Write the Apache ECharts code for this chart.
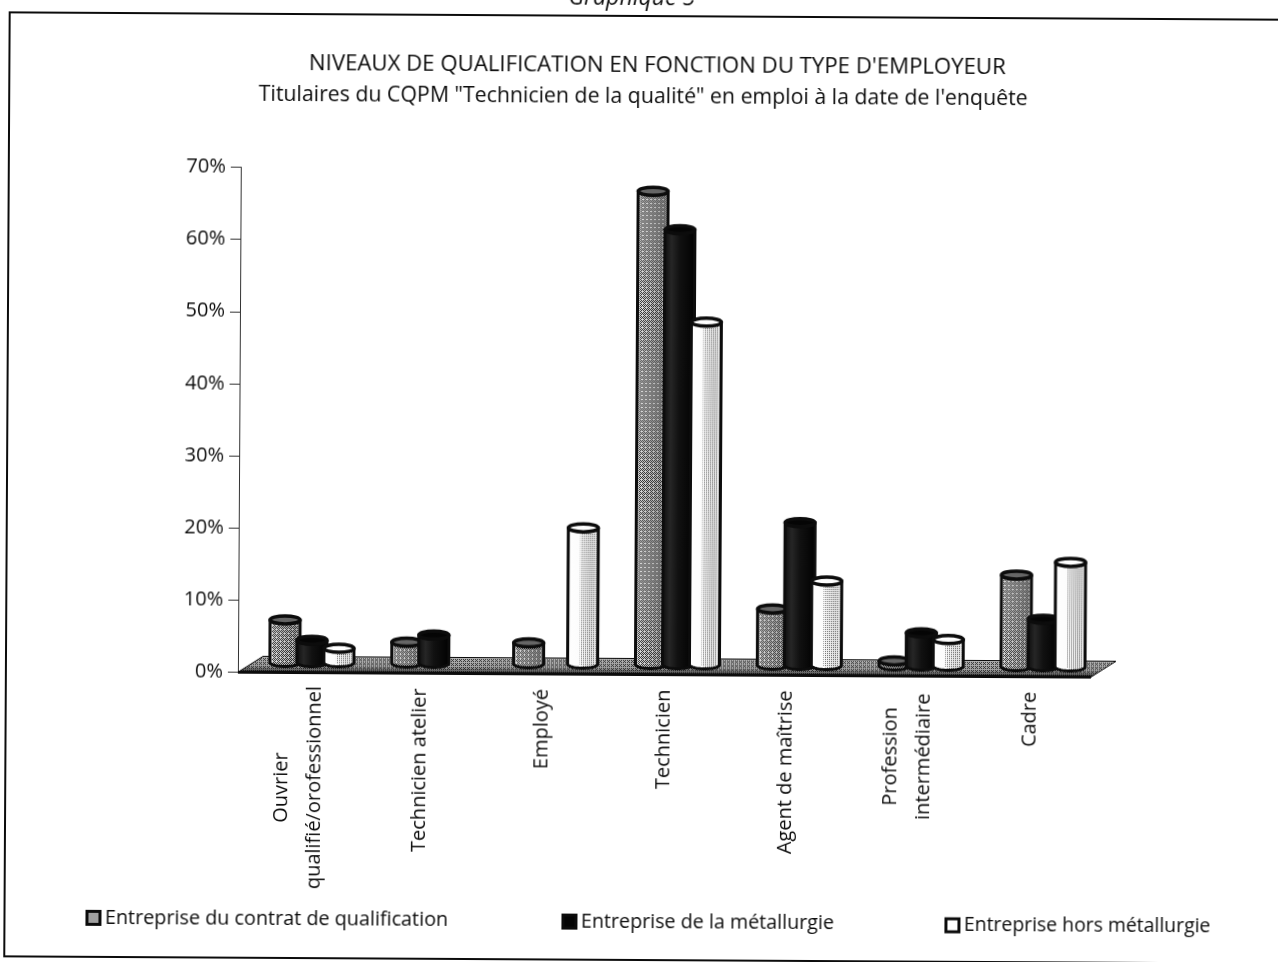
<!DOCTYPE html>
<html lang="fr">
<head>
<meta charset="utf-8">
<title>Niveaux de qualification</title>
<script src="https://cdn.jsdelivr.net/npm/echarts@6/dist/echarts.min.js"></script>
<style>
html,body{margin:0;padding:0;background:#fff;overflow:hidden}
#chart{width:1278px;height:962px;transform:rotate(0.33deg);transform-origin:639px 481px}
</style>
</head>
<body>
<div id="chart"></div>
<script>
// Qualification levels by employer type (percent of job holders)
const categories = [
  'Ouvrier\nqualifié/orofessionnel',
  'Technicien atelier',
  'Employé',
  'Technicien',
  'Agent de maîtrise',
  'Profession\nintermédiaire',
  'Cadre'
];
const contratQualification = [5.9, 2.9, 2.9, 65.6, 7.8, 0.7, 12.7];
const metallurgie = [3.1, 3.9, null, 60.3, 19.8, 4.6, 6.6];
const horsMetallurgie = [2.0, null, 18.9, 47.5, 11.7, 3.7, 14.5];
const yTicks = [0, 10, 20, 30, 40, 50, 60, 70];

const FONT = '"Open Sans", "Noto Sans", sans-serif';
const INK = '#0c0c0c';

// Ordered dither tile: the printed grey tone, darker as level rises (0-16)
const BAYER = [
  [0, 8, 2, 10],
  [12, 4, 14, 6],
  [3, 11, 1, 9],
  [15, 7, 13, 5]
];
function screen(level, alpha) {
  const c = document.createElement('canvas');
  c.width = c.height = 4;
  const g = c.getContext('2d');
  g.fillStyle = 'rgba(0,0,0,' + alpha + ')';
  BAYER.forEach((row, y) => row.forEach((t, x) => {
    if (t < level) g.fillRect(x, y, 1, 1);
  }));
  return { image: c, repeat: 'repeat' };
}

const hGrad = (stops) => ({
  type: 'linear', x: 0, y: 0, x2: 1, y2: 0,
  colorStops: stops.map(([offset, color]) => ({ offset, color }))
});
const vGrad = (stops) => ({
  type: 'linear', x: 0, y: 0, x2: 0, y2: 1,
  colorStops: stops.map(([offset, color]) => ({ offset, color }))
});

// Cylinder outline: flat top edge and rounded lower edge
function bodyPoints(cx, top, base, rx, ry) {
  const pts = [[cx - rx, top], [cx + rx, top]];
  for (let i = 0; i <= 24; i++) {
    const a = Math.PI * i / 24;
    pts.push([cx + rx * Math.cos(a), base + ry * Math.sin(a)]);
  }
  return pts;
}

const LOOKS = [
  {
    fill: hGrad([[0, '#e0e0e0'], [0.5, '#c4c4c4'], [1, '#a0a0a0']]),
    overlay: screen(7, 0.75), overlayShift: 0, overlayInset: 2,
    cap: '#666',
    legend: '#a0a0a0'
  },
  {
    fill: hGrad([[0, '#0a0a0a'], [0.25, '#262626'], [0.5, '#111'], [1, '#000']]),
    overlay: null,
    cap: '#050505',
    legend: '#050505'
  },
  {
    fill: hGrad([[0, '#fff'], [0.4, '#fcfcfc'], [0.75, '#e2e2e2'], [1, '#f0f0f0']]),
    overlay: screen(4, 0.55), overlayShift: 5, overlayInset: 7,
    cap: '#fff',
    legend: '#fff'
  }
];

// Each series sits at its own place across the band, pushed into the floor's depth
const SHIFT = [-14, 13, 40];
const RX = 15, RY = 4, LIFT = 10;

function cylinders(seriesIndex) {
  return function (params, api) {
    const v = api.value(1);
    if (v == null || isNaN(v)) return null;
    const look = LOOKS[seriesIndex];
    const top = api.coord([api.value(0), v]);
    const zero = api.coord([api.value(0), 0]);
    const cx = top[0] + SHIFT[seriesIndex];
    const yTop = top[1] - LIFT;
    const yBase = zero[1] - LIFT;
    const children = [{
      type: 'polygon',
      shape: { points: bodyPoints(cx, yTop, yBase, RX, RY) },
      style: { fill: look.fill, stroke: INK, lineWidth: 3, lineJoin: 'round' }
    }];
    if (look.overlay) {
      children.push({
        type: 'polygon',
        shape: { points: bodyPoints(cx + look.overlayShift, yTop, yBase, RX - look.overlayInset, RY - 1) },
        style: { fill: look.overlay }
      });
    }
    children.push({
      type: 'ellipse',
      shape: { cx: cx, cy: yTop, rx: RX, ry: RY },
      style: { fill: look.cap, stroke: INK, lineWidth: 3.5 }
    });
    return { type: 'group', children: children };
  };
}

// Floor slab under the bars, spanning the whole category axis
function floor(params, api) {
  const band = api.size([1, 0])[0];
  const a = api.coord([0, 0]);
  const b = api.coord([categories.length - 1, 0]);
  const x0 = a[0] - band / 2, x1 = b[0] + band / 2, y = a[1];
  const dx = 25, dy = 16;
  const pts = [[x0, y], [x0 + dx, y - dy], [x1 + dx, y - dy], [x1, y]];
  return {
    type: 'group',
    children: [
      { type: 'polygon', shape: { points: pts },
        style: { fill: vGrad([[0, '#b4b4b4'], [0.6, '#a0a0a0'], [1, '#2a2a2a']]), stroke: INK, lineWidth: 1 } },
      { type: 'polygon', shape: { points: pts }, style: { fill: screen(5, 0.7) } },
      { type: 'line', shape: { x1: x0, y1: y, x2: x1, y2: y }, style: { stroke: INK, lineWidth: 3 } }
    ]
  };
}

const seriesNames = ['Entreprise du contrat de qualification', 'Entreprise de la métallurgie', 'Entreprise hors métallurgie'];
const seriesValues = [contratQualification, metallurgie, horsMetallurgie];
const legendPlaces = [[83, 906], [559, 907], [942, 909]];
const legendSizes = [19.8, 19.7, 19.4];

const chart = echarts.init(document.getElementById('chart'), null, { renderer: 'canvas' });
chart.setOption({
  animation: false,
  backgroundColor: '#fff',
  textStyle: { fontFamily: FONT, color: INK },
  title: [
    { text: 'Graphique 5', left: 624, top: -18, textAlign: 'center',
      textStyle: { fontFamily: FONT, fontStyle: 'italic', fontWeight: 'normal', fontSize: 23, color: INK } },
    { text: "NIVEAUX DE QUALIFICATION EN FONCTION DU TYPE D'EMPLOYEUR", left: 650, top: 50, textAlign: 'center',
      textStyle: { fontFamily: FONT, fontWeight: 'normal', fontSize: 22.2, color: INK } },
    { text: 'Titulaires du CQPM "Technicien de la qualité" en emploi à la date de l\'enquête', left: 636, top: 81, textAlign: 'center',
      textStyle: { fontFamily: FONT, fontWeight: 'normal', fontSize: 21.3, color: INK } }
  ],
  graphic: [{
    type: 'rect', silent: true, z: -1,
    shape: { x: 7, y: 16, width: 1500, height: 944 },
    style: { fill: 'none', stroke: INK, lineWidth: 2 }
  }],
  grid: { left: 239, top: 169.5, width: 853, height: 505 },
  legend: seriesNames.map((name, i) => ({
    left: legendPlaces[i][0], top: legendPlaces[i][1],
    selectedMode: false, itemWidth: 13, itemHeight: 13, itemGap: 5,
    textStyle: { fontFamily: FONT, fontSize: legendSizes[i], color: INK },
    data: [{ name: name, icon: 'rect', itemStyle: { color: LOOKS[i].legend, borderColor: INK, borderWidth: 3 } }]
  })),
  xAxis: {
    type: 'category', data: categories,
    axisLine: { lineStyle: { color: '#333', width: 1 } },
    axisTick: { alignWithLabel: false, length: 12, lineStyle: { color: '#333' } },
    axisLabel: {
      interval: 0, rotate: 90, margin: 15, fontFamily: FONT, fontSize: 20, color: INK,
      lineHeight: 33,
      formatter: function (v) {
        const lines = v.split('\n');
        if (lines.length === 1) return v;
        const tag = lines[1].length > 15 ? 'wide' : 'mid';
        return lines.map(l => '{' + tag + '|' + l + '}').join('\n');
      },
      rich: {
        wide: { width: 200, align: 'center', fontFamily: FONT, fontSize: 20, lineHeight: 33, color: INK },
        mid: { width: 131, align: 'center', fontFamily: FONT, fontSize: 20, lineHeight: 33, color: INK }
      }
    }
  },
  yAxis: {
    type: 'value', min: yTicks[0], max: yTicks[yTicks.length - 1], interval: 10,
    splitLine: { show: false },
    axisLine: { show: true, lineStyle: { color: '#333', width: 1 } },
    axisTick: { show: true, length: 10, lineStyle: { color: '#333' } },
    axisLabel: { margin: 15, fontFamily: FONT, fontSize: 20, color: INK, formatter: '{value}%' }
  },
  series: [
    { type: 'custom', silent: true, z: 1, renderItem: floor, data: [[0, 0]], encode: { x: 0, y: 1 } }
  ].concat(seriesNames.map((name, i) => ({
    type: 'custom', name: name, silent: true, z: 2 + i,
    itemStyle: { color: LOOKS[i].legend },
    renderItem: cylinders(i),
    encode: { x: 0, y: 1 },
    data: categories.map((c, k) => [k, seriesValues[i][k]])
  })))
});
</script>
</body>
</html>
